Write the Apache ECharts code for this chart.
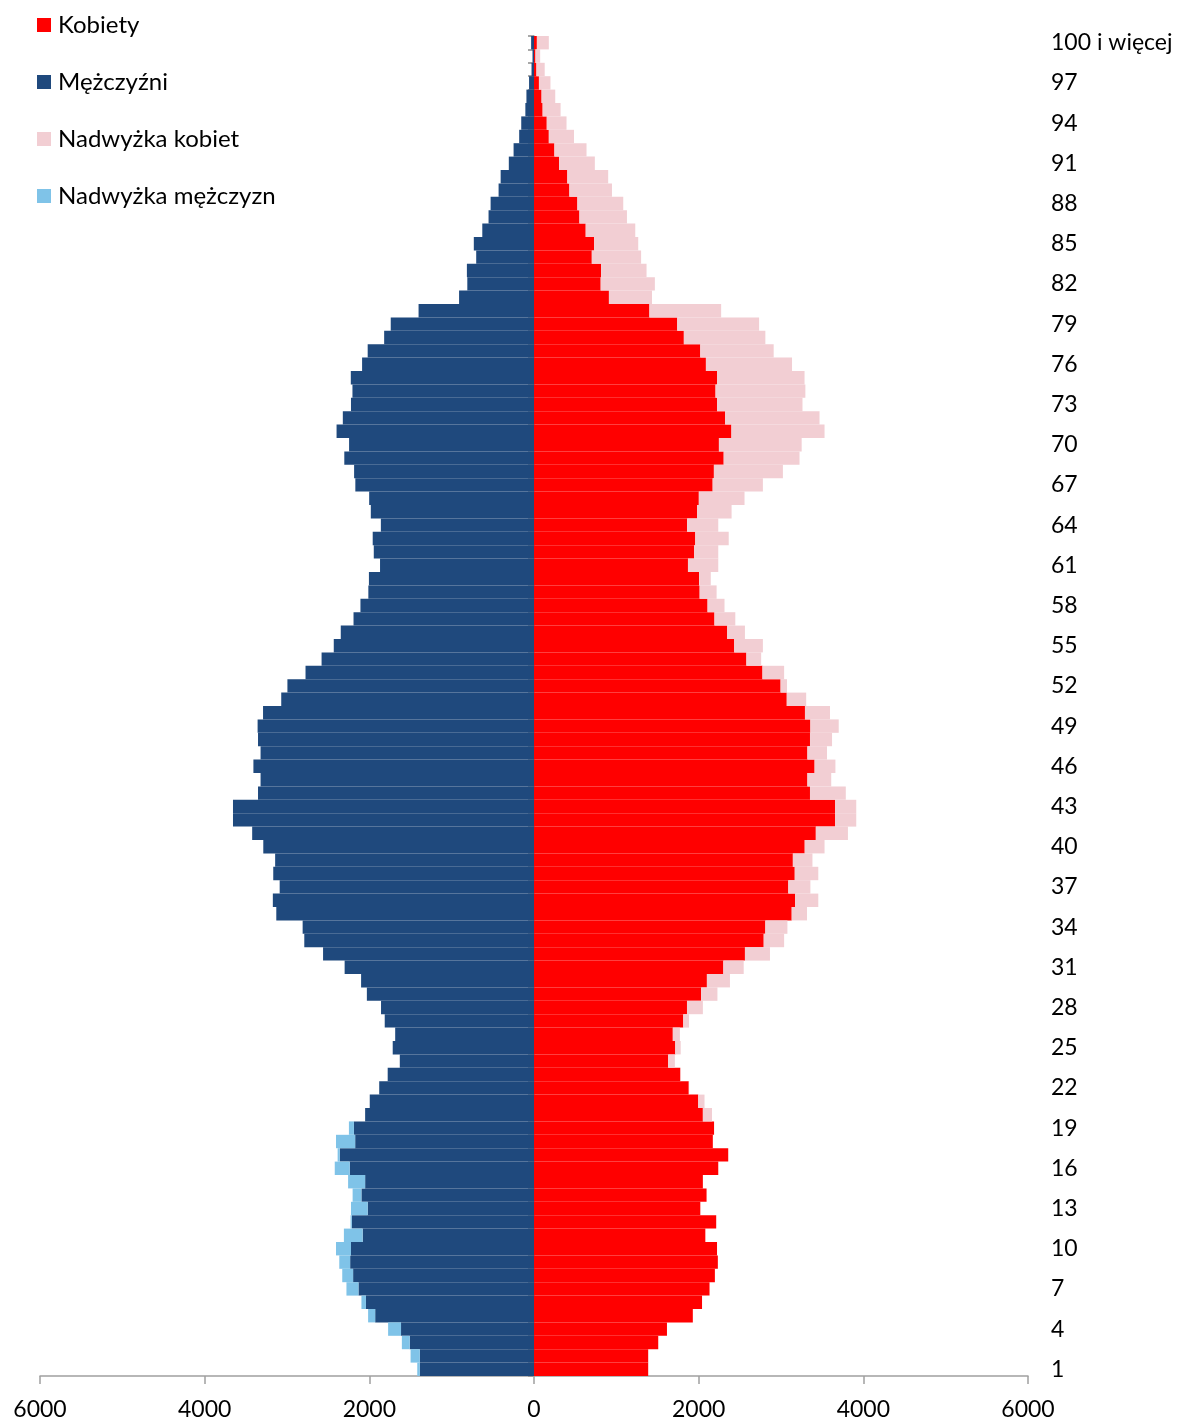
<!DOCTYPE html>
<html>
<head>
<meta charset="utf-8">
<script src="https://cdn.jsdelivr.net/npm/echarts@6/dist/echarts.min.js"></script>
<style>
  html, body { margin: 0; padding: 0; background: #fff; }
  #chart { width: 1181px; height: 1423px; }
</style>
</head>
<body>
<div id="chart"></div>
<script>
// Age categories (bottom to top)
const ages = ['1','2','3','4','5','6','7','8','9','10',
  '11','12','13','14','15','16','17','18','19','20',
  '21','22','23','24','25','26','27','28','29','30',
  '31','32','33','34','35','36','37','38','39','40',
  '41','42','43','44','45','46','47','48','49','50',
  '51','52','53','54','55','56','57','58','59','60',
  '61','62','63','64','65','66','67','68','69','70',
  '71','72','73','74','75','76','77','78','79','80',
  '81','82','83','84','85','86','87','88','89','90',
  '91','92','93','94','95','96','97','98','99','100 i więcej'];

// Men per age
const men = [1418,1499,1605,1772,2015,2096,2278,2329,2365,2405,
  2309,2228,2223,2203,2258,2420,2385,2405,2248,2051,
  1995,1880,1777,1630,1716,1686,1813,1858,2030,2100,
  2300,2562,2790,2810,3130,3172,3089,3167,3144,3288,
  3423,3656,3656,3352,3321,3408,3321,3352,3357,3291,
  3070,2995,2775,2580,2432,2347,2192,2108,2012,2005,
  1870,1946,1959,1860,1982,2002,2170,2185,2304,2246,
  2398,2322,2223,2205,2225,2088,2020,1820,1740,1402,
  910,810,815,702,731,628,552,527,430,405,
  306,248,180,155,105,92,60,30,18,35];

// Women per age
const women = [1387,1387,1509,1615,1929,2041,2132,2197,2233,2223,
  2081,2213,2020,2096,2051,2238,2359,2172,2187,2162,
  2071,1885,1780,1711,1782,1772,1883,2051,2228,2380,
  2547,2866,3038,3078,3316,3453,3357,3453,3382,3529,
  3813,3914,3914,3787,3610,3661,3559,3620,3701,3595,
  3306,3073,3038,2759,2780,2562,2445,2314,2218,2147,
  2238,2238,2365,2238,2400,2557,2780,3023,3225,3251,
  3529,3468,3261,3296,3286,3134,2911,2810,2734,2273,
  1433,1468,1367,1301,1266,1230,1129,1084,947,901,
  739,638,486,395,323,258,200,130,75,180];

const xTicks = [-6000, -4000, -2000, 0, 2000, 4000, 6000];
const legendNames = ['Kobiety', 'Mężczyźni', 'Nadwyżka kobiet', 'Nadwyżka mężczyzn'];

// Derived series: common part on both sides plus the excess of the larger group
const common = ages.map((_, i) => Math.min(men[i], women[i]));
const womenExcess = ages.map((_, i) => Math.max(women[i] - men[i], 0));
const menExcess = ages.map((_, i) => Math.max(men[i] - women[i], 0));

const FONT = 'Lato';
const chart = echarts.init(document.getElementById('chart'), null, { renderer: 'canvas' });

chart.setOption({
  animation: false,
  backgroundColor: '#ffffff',
  textStyle: { fontFamily: FONT },
  legend: {
    orient: 'vertical',
    left: 37,
    top: 13,
    padding: 0,
    itemWidth: 14,
    itemHeight: 14,
    itemGap: 33,
    icon: 'rect',
    data: legendNames,
    selectedMode: false,
    textStyle: { fontFamily: FONT, fontSize: 24, color: '#000', lineHeight: 24, padding: [0, 0, 0, 2] }
  },
  grid: { left: 40, right: 153, top: 36, bottom: 47, containLabel: false },
  xAxis: {
    type: 'value',
    min: xTicks[0],
    max: xTicks[xTicks.length - 1],
    interval: 2000,
    splitLine: { show: false },
    axisLine: { show: true, lineStyle: { color: '#a0a0a0', width: 1.5 } },
    axisTick: { show: true, length: 8, lineStyle: { color: '#a0a0a0', width: 1.5 } },
    axisLabel: {
      margin: 22,
      fontFamily: FONT, fontSize: 23, color: '#000',
      formatter: v => String(Math.abs(v))
    }
  },
  yAxis: [
    {
      type: 'category',
      data: ages,
      position: 'left',
      axisLine: { show: true, onZero: true, lineStyle: { color: '#a0a0a0', width: 1.5 } },
      axisTick: { show: true, interval: 0, length: 6, lineStyle: { color: '#8c8c8c', width: 1.5 } },
      axisLabel: { show: false },
      splitLine: { show: false }
    },
    {
      type: 'category',
      data: ages,
      position: 'right',
      axisLine: { show: false, onZero: false },
      axisTick: { show: false },
      axisLabel: {
        show: true, interval: 2, margin: 23,
        fontFamily: FONT, fontSize: 23, color: '#000', align: 'left'
      },
      splitLine: { show: false }
    }
  ],
  series: [
    {
      name: 'Kobiety', type: 'bar', stack: 'w', yAxisIndex: 0,
      data: common,
      barCategoryGap: '0%', barGap: '-100%',
      itemStyle: { color: '#ff0000' }
    },
    {
      name: 'Mężczyźni', type: 'bar', stack: 'm', yAxisIndex: 0,
      data: common.map(v => -v),
      barCategoryGap: '0%', barGap: '-100%',
      itemStyle: { color: '#1f497d' }
    },
    {
      name: 'Nadwyżka kobiet', type: 'bar', stack: 'w', yAxisIndex: 0,
      data: womenExcess,
      barCategoryGap: '0%', barGap: '-100%',
      itemStyle: { color: '#f2ced3' }
    },
    {
      name: 'Nadwyżka mężczyzn', type: 'bar', stack: 'm', yAxisIndex: 0,
      data: menExcess.map(v => -v),
      barCategoryGap: '0%', barGap: '-100%',
      itemStyle: { color: '#7fc3e8' }
    }
  ]
});
</script>
</body>
</html>
